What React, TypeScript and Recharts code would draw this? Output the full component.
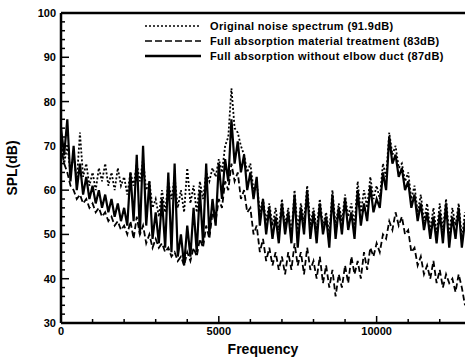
import { LineChart, Line, XAxis, YAxis, ReferenceLine, Legend } from "recharts";

const FREQ_STEP = 100;

// Original noise spectrum (dotted)
const original = [
  72, 66, 70, 64, 68, 62, 73, 63, 66, 61,
  64, 60, 65, 62, 66, 61, 64, 60, 65, 61,
  63, 59, 64, 61, 66, 62, 67, 60, 62, 56,
  58, 54, 60, 55, 62, 58, 63, 56, 60, 55,
  65, 57, 61, 55, 62, 58, 64, 62, 65, 63,
  67, 64, 70, 72, 83, 74, 73, 70, 68, 64,
  66, 60, 62, 55, 58, 53, 57, 52, 56, 51,
  58, 52, 56, 50, 60, 51, 57, 53, 61, 52,
  56, 51, 58, 52, 55, 50, 60, 52, 57, 53,
  59, 54, 57, 52, 62, 55, 60, 56, 63, 58,
  61, 58, 66, 63, 73, 68, 70, 65, 66, 62,
  64, 58, 61, 55, 59, 53, 57, 51, 56, 50,
  57, 51, 58, 50, 56, 52, 57, 49, 55,
];

// Full absorption material treatment (dashed)
const material = [
  70, 66, 64, 61, 60, 58, 59, 57, 58, 56,
  57, 55, 56, 54, 55, 53, 54, 52, 53, 51,
  52, 50, 53, 49, 54, 50, 52, 48, 50, 47,
  49, 47, 48, 46, 47, 45, 46, 44, 45, 43,
  46, 44, 47, 45, 49, 47, 52, 49, 55, 53,
  58, 56, 62, 60, 66, 62, 64, 58, 60, 55,
  56, 50, 52, 46, 49, 44, 47, 43, 46, 42,
  45, 41, 46, 42, 48, 43, 46, 41, 47, 42,
  44, 40, 45, 39, 43, 38, 42, 36, 41, 38,
  43, 39, 45, 41, 44, 40, 46, 42, 47, 45,
  48, 46, 50, 49, 53, 51, 55, 52, 54, 50,
  51, 46, 47, 43, 45, 41, 43, 40, 44, 39,
  42, 38, 41, 39, 40, 37, 41, 38, 34,
];

// Full absorption without elbow duct (solid)
const noElbow = [
  74, 68, 76, 62, 70, 60, 66, 59, 63, 58,
  61, 57, 60, 56, 59, 55, 58, 54, 57, 53,
  56, 52, 64, 53, 68, 50, 70, 52, 62, 49,
  55, 48, 58, 47, 64, 46, 66, 45, 50, 43,
  52, 45, 56, 46, 60, 48, 66, 50, 58, 52,
  66, 58, 67, 62, 76, 66, 71, 64, 68, 60,
  64, 58, 63, 52, 58, 50, 56, 49, 54, 48,
  57, 50, 55, 48, 59, 47, 56, 50, 60, 49,
  55, 48, 57, 50, 54, 47, 59, 49, 56, 50,
  58, 51, 55, 49, 60, 52, 57, 53, 61, 55,
  58, 56, 64, 60, 72, 66, 68, 63, 65, 60,
  62, 56, 59, 53, 57, 51, 55, 49, 54, 48,
  55, 48, 57, 47, 54, 49, 56, 47, 53,
];

const xTicks = [0, 1000, 2000, 3000, 4000, 5000, 6000, 7000, 8000, 9000, 10000, 11000, 12000];
const yTicks = [30, 32, 34, 36, 38, 40, 42, 44, 46, 48, 50, 52, 54, 56, 58, 60, 62, 64, 66, 68, 70, 72, 74, 76, 78, 80, 82, 84, 86, 88, 90, 92, 94, 96, 98, 100];

const series = [
  { key: "original", name: "Original noise spectrum (91.9dB)", dash: "2 2", width: 1.8, legendDash: "2 2" },
  { key: "material", name: "Full absorption material treatment (83dB)", dash: "6 3", width: 1.8, legendDash: "7 3" },
  { key: "noElbow", name: "Full absorption without elbow duct (87dB)", dash: undefined, width: 2.2, legendDash: undefined },
];

const data = original.map((v, i) => ({
  f: i * FREQ_STEP,
  original: v,
  material: material[i],
  noElbow: noElbow[i],
}));

const FONT = "'Liberation Sans', Arial, sans-serif";

const XTick = ({ x, y, payload }: any) => {
  const major = payload.value % 5000 === 0;
  return (
    <g>
      <line x1={x} x2={x} y1={y} y2={y - (major ? 7 : 4)} stroke="#000" strokeWidth={1.5} />
      {major && (
        <text x={x} y={y + 12} textAnchor="middle" fontFamily={FONT} fontWeight="bold" fontSize={11} fill="#000">
          {payload.value}
        </text>
      )}
    </g>
  );
};

const YTick = ({ x, y, payload }: any) => {
  const major = payload.value % 10 === 0;
  return (
    <g>
      <line x1={x} x2={x + (major ? 8 : 4)} y1={y} y2={y} stroke="#000" strokeWidth={1.5} />
      {major && (
        <text x={x - 5} y={y + 4} textAnchor="end" fontFamily={FONT} fontWeight="bold" fontSize={11} fill="#000">
          {payload.value}
        </text>
      )}
    </g>
  );
};

const renderLegend = () => (
  <div style={{ fontFamily: FONT, fontWeight: "bold", fontSize: 11, letterSpacing: 0.35, color: "#000" }}>
    {series.map((s) => (
      <div key={s.key} style={{ display: "flex", alignItems: "center", height: 15, whiteSpace: "nowrap" }}>
        <svg width={56} height={8}>
          <line x1={0} x2={56} y1={4} y2={4} stroke="#000" strokeWidth={s.dash ? 1.6 : 2.4} strokeDasharray={s.legendDash} />
        </svg>
        <span style={{ marginLeft: 9 }}>{s.name}</span>
      </div>
    ))}
  </div>
);

export default function App() {
  return (
    <div style={{ position: "absolute", left: 0, top: 0, background: "#fff" }}>
      <LineChart width={465} height={358} data={data} margin={{ top: 13, right: 0, left: 0, bottom: 0 }}>
        <XAxis
          dataKey="f"
          type="number"
          domain={[0, 12800]}
          ticks={xTicks}
          interval={0}
          allowDataOverflow
          height={35}
          tickSize={0}
          tickMargin={0}
          tick={<XTick />}
          axisLine={{ stroke: "#000", strokeWidth: 2.5 }}
          label={{
            content: ({ viewBox }: any) => (
              <text
                x={viewBox.x + viewBox.width / 2}
                y={viewBox.y + 31}
                textAnchor="middle"
                fontFamily={FONT}
                fontWeight="bold"
                fontSize={14}
                fill="#000"
              >
                Frequency
              </text>
            ),
          }}
        />
        <YAxis
          domain={[30, 100]}
          ticks={yTicks}
          interval={0}
          width={61}
          tickSize={0}
          tickMargin={0}
          tick={<YTick />}
          axisLine={{ stroke: "#000", strokeWidth: 2.5 }}
          label={{
            content: ({ viewBox }: any) => (
              <text
                transform={`translate(${viewBox.x + 17}, ${viewBox.y + viewBox.height / 2}) rotate(-90)`}
                textAnchor="middle"
                fontFamily={FONT}
                fontWeight="bold"
                fontSize={14}
                fill="#000"
              >
                SPL(dB)
              </text>
            ),
          }}
        />
        <ReferenceLine y={100} stroke="#000" strokeWidth={2.5} />
        <Legend
          layout="vertical"
          align="center"
          verticalAlign="middle"
          content={renderLegend}
          wrapperStyle={{ position: "absolute", left: 145, top: 18, width: "auto" }}
        />
        {series.map((s) => (
          <Line
            key={s.key}
            dataKey={s.key}
            name={s.name}
            type="linear"
            stroke="#000"
            strokeWidth={s.width}
            strokeDasharray={s.dash}
            dot={false}
            isAnimationActive={false}
          />
        ))}
      </LineChart>
    </div>
  );
}
